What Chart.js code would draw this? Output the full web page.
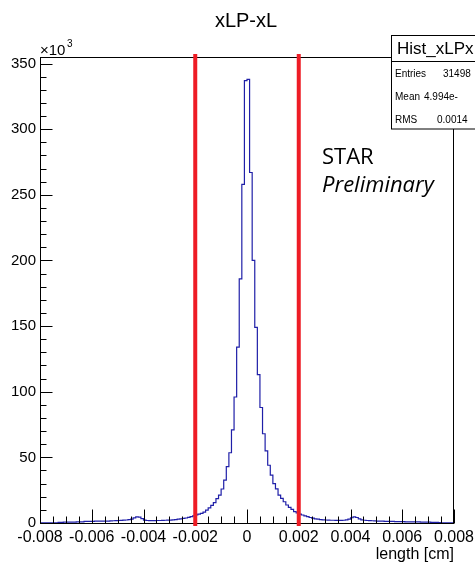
<!DOCTYPE html>
<html>
<head>
<meta charset="utf-8">
<title>xLP-xL</title>
<script src="https://cdn.jsdelivr.net/npm/chart.js@4.4.1/dist/chart.umd.min.js"></script>
<style>
  html, body { margin: 0; padding: 0; background: #fff; }
</style>
</head>
<body>
<canvas id="grafico" width="475" height="565"></canvas>
<script>
/* ── DATOS — histograma xLP-xL (cuentas en miles, bins de 0.0001 cm) ── */
const binLow   = -0.008;
const binWidth = 0.0001;
const counts = [
  0.1, 0.1, 0.1, 0.2, 0.1, 0.2, 0.2, 0.5, 0.5, 0.6,
  0.6, 0.6, 0.7, 0.7, 0.8, 0.8, 0.9, 1.2, 1.3, 1.3,
  1.3, 1.4, 1.4, 1.4, 1.5, 1.5, 1.5, 1.6, 1.7, 1.8,
  1.9, 2.0, 2.2, 2.3, 2.5, 3.0, 3.9, 4.7, 4.5, 3.4,
  2.2, 1.9, 1.8, 1.8, 1.8, 1.9, 1.9, 2.0, 2.1, 2.2,
  2.2, 2.4, 2.6, 2.9, 3.2, 3.5, 3.8, 4.3, 4.8, 5.4,
  6.1, 6.7, 7.3, 8.3, 9.8, 11.5, 13.5, 15.5, 18.5, 21.3,
  25.9, 32.7, 43, 53.5, 71, 96, 134, 186, 258, 337,
  338, 267, 200, 149, 113, 88, 68, 55, 44, 36.5,
  30, 26, 21.3, 18.8, 16.2, 13.7, 11.9, 10.4, 8.6, 7.6,
  6.8, 6.1, 5.5, 4.8, 4.2, 3.7, 3.2, 2.9, 2.6, 2.4,
  2.3, 2.2, 2.1, 2.1, 2.0, 2.0, 2.0, 2.1, 2.4, 3.0,
  4.0, 4.7, 4.2, 3.1, 2.4, 2.1, 1.9, 1.8, 1.7, 1.6,
  1.5, 1.5, 1.4, 1.3, 1.3, 1.2, 1.2, 1.1, 1.1, 1.0,
  1.0, 0.9, 0.9, 0.9, 0.8, 0.8, 0.8, 0.7, 0.7, 0.6,
  0.6, 0.5, 0.5, 0.4, 0.3, 0.2, 0.2, 0.1, 0.1, 0.1
];
const cutLines    = [-0.002, 0.002];
const yTicks      = [0, 50, 100, 150, 200, 250, 300, 350];
const xTicks      = [-0.008, -0.006, -0.004, -0.002, 0, 0.002, 0.004, 0.006, 0.008];
const xTickLabels = ['-0.008', '-0.006', '-0.004', '-0.002', '0', '0.002', '0.004', '0.006', '0.008'];
const statsTitle  = 'Hist_xLPx';
const statsNames  = ['Entries', 'Mean', 'RMS'];
const statsValues = ['31498', '4.994e-', '0.0014'];

const FONT = '"Liberation Sans", Arial, Helvetica, sans-serif';

// puntos en el borde izquierdo de cada bin + borde final
const puntos = counts.map((c, i) => ({ x: binLow + i * binWidth, y: c }));
puntos.push({ x: binLow + counts.length * binWidth, y: 0 });

/* ── PLUGIN — marco, ticks internos estilo ROOT, cortes y textos ── */
const decoracionRoot = {
  id: 'decoracionRoot',
  afterDatasetsDraw(chart) {
    const { ctx, chartArea: a, scales: { x, y } } = chart;
    const L = Math.round(a.left) + 0.5, R = Math.round(a.right) - 0.5;
    const T = Math.round(a.top) + 0.5,  B = Math.round(a.bottom) + 0.5;
    ctx.save();
    ctx.strokeStyle = '#000';
    ctx.lineWidth = 1;
    ctx.strokeRect(L, T, R - L, B - T);

    // ticks eje Y (mayores + 4 menores por intervalo)
    ctx.beginPath();
    for (let i = 0; i < yTicks.length; i++) {
      const py = Math.round(y.getPixelForValue(yTicks[i])) + 0.5;
      ctx.moveTo(L, py); ctx.lineTo(L + 12, py);
      const next = yTicks[i] + (yTicks[1] - yTicks[0]);
      for (let k = 1; k < 5; k++) {
        const v = yTicks[i] + (next - yTicks[i]) * k / 5;
        if (v > y.max) break;
        const pm = Math.round(y.getPixelForValue(v)) + 0.5;
        ctx.moveTo(L, pm); ctx.lineTo(L + 6, pm);
      }
    }
    // ticks eje X (mayores + 3 menores por intervalo)
    for (let i = 0; i < xTicks.length; i++) {
      const px = Math.round(x.getPixelForValue(xTicks[i])) + 0.5;
      ctx.moveTo(px, B); ctx.lineTo(px, B - 14);
      if (i < xTicks.length - 1) {
        for (let k = 1; k < 4; k++) {
          const v = xTicks[i] + (xTicks[i + 1] - xTicks[i]) * k / 4;
          const pm = Math.round(x.getPixelForValue(v)) + 0.5;
          ctx.moveTo(pm, B); ctx.lineTo(pm, B - 7);
        }
      }
    }
    ctx.stroke();

    // líneas de corte
    ctx.fillStyle = '#ee1c25';
    cutLines.forEach(c => {
      const px = x.getPixelForValue(c);
      ctx.fillRect(px - 2, a.top - 3, 4, a.bottom - a.top + 6);
    });
    ctx.restore();
  },

  afterDraw(chart) {
    const { ctx, chartArea: a } = chart;
    ctx.save();
    ctx.fillStyle = '#000';

    // título
    ctx.font = '20px ' + FONT;
    ctx.textAlign = 'center';
    ctx.fillText('xLP-xL', 246, 27);

    // multiplicador ×10³
    ctx.textAlign = 'left';
    ctx.font = '15px ' + FONT;
    ctx.fillText('×10', a.left, 55);
    ctx.font = '10px ' + FONT;
    ctx.fillText('3', a.left + 27, 47);

    // título eje X
    ctx.font = '16px ' + FONT;
    ctx.textAlign = 'right';
    ctx.fillText('length [cm]', a.right, 559);

    // STAR Preliminary
    ctx.textAlign = 'left';
    ctx.font = '22px "Open Sans", sans-serif';
    ctx.fillText('STAR', 322, 164);
    ctx.font = 'italic 22px "Open Sans", sans-serif';
    ctx.fillText('Preliminary', 322, 192);

    // caja de estadísticas
    ctx.fillStyle = '#fff';
    ctx.fillRect(391.5, 35.5, 100, 93.5);
    ctx.strokeStyle = '#000';
    ctx.lineWidth = 1;
    ctx.strokeRect(391.5, 35.5, 100, 93.5);
    ctx.beginPath();
    ctx.moveTo(391.5, 61.5); ctx.lineTo(475, 61.5);
    ctx.stroke();
    ctx.fillStyle = '#000';
    ctx.font = '17px ' + FONT;
    ctx.fillText(statsTitle, 397, 54);
    ctx.font = '10px ' + FONT;
    const filasY   = [77, 100, 123];
    const valoresX = [443, 424, 437];
    statsNames.forEach((n, i) => {
      ctx.fillText(n, 395, filasY[i]);
      ctx.fillText(statsValues[i], valoresX[i], filasY[i]);
    });
    ctx.restore();
  }
};

/* ── GRÁFICO ─────────────────────────────────────────────────── */
new Chart(document.getElementById('grafico').getContext('2d'), {
  type: 'line',
  data: {
    datasets: [{
      label: statsTitle,
      data: puntos,
      stepped: true,
      borderColor: '#1f1fa8',
      borderWidth: 1.2,
      pointRadius: 0,
      fill: false,
    }]
  },
  options: {
    responsive: false,
    animation: false,
    layout: { padding: { top: 57, right: 21, bottom: 0, left: 0 } },
    plugins: {
      legend: { display: false },
      tooltip: { enabled: false },
    },
    scales: {
      x: {
        type: 'linear',
        min: -0.008,
        max: 0.008,
        afterBuildTicks: (s) => { s.ticks = xTicks.map(v => ({ value: v })); },
        afterFit: (s) => { s.height = 42; s.paddingLeft = 0; s.paddingRight = 0; },
        ticks: {
          callback: (v, i) => xTickLabels[i],
          font: { family: FONT, size: 16 },
          color: '#000',
          padding: 5,
          maxRotation: 0,
          autoSkip: false,
        },
        grid: { display: false, drawTicks: false },
        border: { display: false },
      },
      y: {
        min: 0,
        max: 355,
        afterBuildTicks: (s) => { s.ticks = yTicks.map(v => ({ value: v })); },
        afterFit: (s) => { s.width = 40; },
        ticks: {
          font: { family: FONT, size: 15 },
          color: '#000',
          padding: 4,
        },
        grid: { display: false, drawTicks: false },
        border: { display: false },
      }
    }
  },
  plugins: [decoracionRoot]
});
</script>
</body>
</html>
